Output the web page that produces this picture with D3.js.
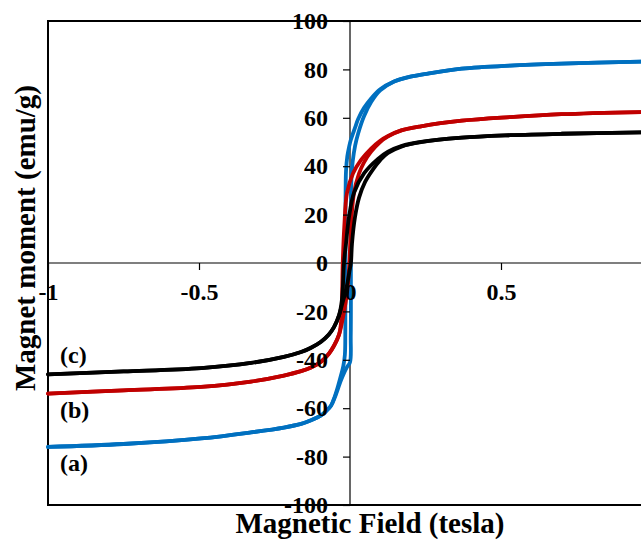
<!DOCTYPE html>
<html>
<head>
<meta charset="utf-8">
<script src="https://cdn.jsdelivr.net/npm/d3@7"></script>
<style>
  html, body { margin: 0; padding: 0; background: #fff; overflow: hidden; }
  svg { display: block; font-family: "Liberation Serif", "Times New Roman", serif; font-weight: bold; }
</style>
</head>
<body>
<svg id="chart" width="641" height="540"></svg>
<script>
// ---- data (field in tesla, moment in emu/g) ----
const xTicks = [-1, -0.5, 0, 0.5];
const xTickLabels = ["-1", "-0.5", "0", "0.5"];
const yTicks = [-100, -80, -60, -40, -20, 0, 20, 40, 60, 80, 100];
const yTickLabels = ["-100", "-80", "-60", "-40", "-20", "0", "20", "40", "60", "80", "100"];
const sampleNames = ["(a)", "(b)", "(c)"];
const sampleColors = ["#0070C0", "#C00000", "#000000"];

// sample (a) – blue : [field, moment]
const blueUpper = [[-1,-76],[-0.75,-74.8],[-0.493,-72.5],[-0.328,-70],[-0.219,-68],[-0.162,-66.5],[-0.129,-65],[-0.096,-63],[-0.08,-61.3],[-0.063,-59],[-0.05,-55],[-0.04,-51],[-0.03,-46.5],[-0.022,-42.5],[-0.017,-38],[-0.0155,-28],[-0.0152,0],[-0.015,20],[-0.0145,30],[-0.0132,38],[-0.009,44],[-0.003,48],[0.003,51],[0.017,56],[0.027,59.5],[0.046,64],[0.07,68],[0.1,71.8],[0.146,75],[0.2,77],[0.258,78.3],[0.37,80.3],[0.53,81.6],[0.70,82.4],[0.97,83.2]];
const blueLower = [[-1,-76],[-0.75,-74.8],[-0.493,-72.5],[-0.328,-70],[-0.219,-68],[-0.162,-66.5],[-0.129,-65],[-0.096,-63],[-0.08,-61.3],[-0.063,-59],[-0.05,-55.5],[-0.04,-52],[-0.03,-48.5],[-0.02,-45.5],[-0.01,-43],[0.0,-41],[0.0025,-30],[0.003,0],[0.0035,25],[0.005,36],[0.009,42],[0.017,48.5],[0.027,53.5],[0.046,60.5],[0.07,66.5],[0.1,71.3],[0.146,75],[0.2,77],[0.258,78.3],[0.37,80.3],[0.53,81.6],[0.70,82.4],[0.97,83.2]];

// sample (b) – red
const redUpper = [[-1,-54],[-0.75,-52.6],[-0.493,-51.2],[-0.328,-49],[-0.219,-46.5],[-0.162,-44.7],[-0.129,-43.2],[-0.096,-40.8],[-0.07,-37.5],[-0.053,-34.2],[-0.036,-29.5],[-0.03,-25],[-0.026,-12],[-0.024,0],[-0.0189,15],[-0.0099,29],[0.0099,37],[0.036,42.5],[0.07,47.3],[0.1,50.5],[0.126,52.5],[0.17,54.8],[0.235,56.5],[0.37,58.8],[0.53,60.3],[0.70,61.5],[0.97,62.4]];
const redLower = [[-1,-54],[-0.75,-52.6],[-0.493,-51.2],[-0.328,-49],[-0.219,-46.5],[-0.162,-44.7],[-0.129,-43.2],[-0.096,-40.8],[-0.07,-37.5],[-0.053,-34.2],[-0.036,-29.5],[-0.024,-23],[-0.014,-16],[-0.007,-9],[-0.002,0],[0.0033,15],[0.0132,29],[0.03,37],[0.046,41.5],[0.07,46],[0.1,50],[0.126,52.3],[0.17,54.8],[0.235,56.5],[0.37,58.8],[0.53,60.3],[0.70,61.5],[0.97,62.4]];

// sample (c) – black
const blackUpper = [[-1,-46],[-0.75,-44.8],[-0.493,-43.4],[-0.328,-41.3],[-0.219,-38.8],[-0.162,-36.8],[-0.129,-35],[-0.096,-32.5],[-0.07,-29.5],[-0.053,-26.5],[-0.036,-21.5],[-0.0265,-15],[-0.0199,0],[-0.0132,8],[-0.0033,19],[0.0132,29],[0.0464,37],[0.0927,43],[0.1258,46],[0.17,48.3],[0.235,50],[0.37,51.8],[0.53,52.8],[0.70,53.4],[0.97,54]];
const blackLower = [[-1,-46],[-0.75,-44.8],[-0.493,-43.4],[-0.328,-41.3],[-0.219,-38.8],[-0.162,-36.8],[-0.129,-35],[-0.096,-32.5],[-0.07,-29.5],[-0.053,-26.5],[-0.036,-21.5],[-0.026,-17],[-0.016,-12.5],[-0.008,-8],[-0.002,-3.5],[0.003,0],[0.0066,8],[0.0166,19],[0.03,27],[0.05,33.5],[0.075,38.5],[0.1,42.5],[0.1258,45.5],[0.17,48.1],[0.235,50],[0.37,51.8],[0.53,52.8],[0.70,53.4],[0.97,54]];

const series = [
  { color: sampleColors[0], branches: [blueUpper, blueLower] },
  { color: sampleColors[1], branches: [redUpper, redLower] },
  { color: sampleColors[2], branches: [blackUpper, blackLower] }
];

// ---- layout ----
const FONT = "'Liberation Serif', 'Times New Roman', serif";
const svg = d3.select("#chart");
const x = d3.scaleLinear().domain([-1, 1]).range([48, 652]);
const y = d3.scaleLinear().domain([-100, 100]).range([505, 21]);

// frame
svg.append("path")
  .attr("d", `M${x(1)},${y(100)}H${x(-1)}V${y(-100)}H${x(1)}`)
  .attr("fill", "none").attr("stroke", "#000").attr("stroke-width", 2);

// zero axes lines
svg.append("line").attr("x1", x(-1)).attr("x2", x(1)).attr("y1", y(0)).attr("y2", y(0))
  .attr("stroke", "#000").attr("stroke-width", 1.2);
svg.append("line").attr("x1", x(0)).attr("x2", x(0)).attr("y1", y(100)).attr("y2", y(-100))
  .attr("stroke", "#000").attr("stroke-width", 1.2);

// curves
const line = d3.line().x(d => x(d[0])).y(d => y(d[1])).curve(d3.curveCatmullRom.alpha(0.5));
series.forEach(s => {
  s.branches.forEach(b => {
    svg.append("path").attr("d", line(b))
      .attr("fill", "none").attr("stroke", s.color)
      .attr("stroke-width", 3.8).attr("stroke-linejoin", "round").attr("stroke-linecap", "round");
  });
});

// y axis at x = 0
const yAxis = d3.axisLeft(y).tickValues(yTicks).tickSize(7).tickPadding(15)
  .tickFormat((d, i) => yTickLabels[i]);
const gy = svg.append("g").attr("transform", `translate(${x(0)},0)`).call(yAxis);
gy.select(".domain").remove();
gy.selectAll("line").attr("stroke", "#000").attr("stroke-width", 1.2);
gy.selectAll("text").attr("font-size", 24).attr("font-weight", "bold").attr("fill", "#000")
  .attr("font-family", FONT);

// x axis at y = 0
const xAxis = d3.axisBottom(x).tickValues(xTicks).tickSize(7).tickPadding(13)
  .tickFormat((d, i) => xTickLabels[i]);
const gx = svg.append("g").attr("transform", `translate(0,${y(0)})`).call(xAxis);
gx.select(".domain").remove();
gx.selectAll("line").attr("stroke", "#000").attr("stroke-width", 1.2);
gx.selectAll("text").attr("font-size", 24).attr("font-weight", "bold").attr("fill", "#000")
  .attr("font-family", FONT);

// sample labels
const labelY = [471, 418, 363];
sampleNames.forEach((n, i) => {
  svg.append("text").attr("x", 60).attr("y", labelY[i])
    .attr("font-size", 24).attr("font-weight", "bold").attr("font-family", FONT).text(n);
});

// axis titles
svg.append("text").attr("x", 370).attr("y", 533).attr("text-anchor", "middle")
  .attr("font-size", 29).attr("font-weight", "bold").attr("font-family", FONT)
  .text("Magnetic Field (tesla)");
svg.append("text").attr("transform", "translate(35,238) rotate(-90)").attr("text-anchor", "middle")
  .attr("font-size", 29).attr("font-weight", "bold").attr("font-family", FONT)
  .text("Magnet moment (emu/g)");
</script>
</body>
</html>
